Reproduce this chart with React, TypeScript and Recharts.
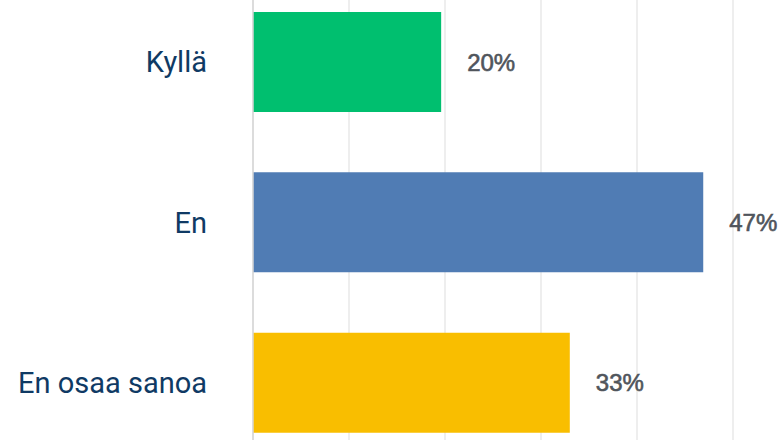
import { BarChart, Bar, XAxis, YAxis, CartesianGrid, Cell, LabelList } from "recharts";

const categories = ["Kyllä", "En", "En osaa sanoa"];
const shares = [19.6, 46.9, 33.0];
const barColors = ["#00BF6F", "#507CB4", "#F9BE00"];
const xTicks = [0, 10, 20, 30, 40, 50];

const data = categories.map((name, i) => ({ name, value: shares[i] }));

export default function App() {
  return (
    <div style={{ position: "absolute", left: 0, top: 0, width: 784, height: 440, overflow: "hidden", background: "#fff" }}>
      <div style={{ position: "absolute", left: 0, top: -18 }}>
        <BarChart
          layout="vertical"
          width={784}
          height={481}
          data={data}
          margin={{ top: 0, right: 51, bottom: 0, left: 0 }}
        >
          <CartesianGrid horizontal={false} stroke="#E8E8E8" strokeWidth={1.5} />
          <XAxis type="number" domain={[0, 50]} ticks={xTicks} hide />
          <YAxis
            type="category"
            dataKey="name"
            width={253}
            axisLine={{ stroke: "#D6D6D6", strokeWidth: 1.5 }}
            tickLine={false}
            tickSize={0}
            tickMargin={46}
            tick={{ fill: "#0F3A64", fontSize: 29, fontFamily: "Roboto" }}
          />
          <Bar dataKey="value" barSize={100} isAnimationActive={false}>
            {data.map((d, i) => (
              <Cell key={d.name} fill={barColors[i]} />
            ))}
            {/* thin stroke gives the semi-bold look of the original labels */}
            <LabelList
              dataKey="value"
              position="right"
              offset={26}
              formatter={(v: number) => `${Math.round(v)}%`}
              style={{ fill: "#50555C", stroke: "#50555C", strokeWidth: 0.6, fontSize: 24, fontFamily: "Liberation Sans" }}
            />
          </Bar>
        </BarChart>
      </div>
    </div>
  );
}
